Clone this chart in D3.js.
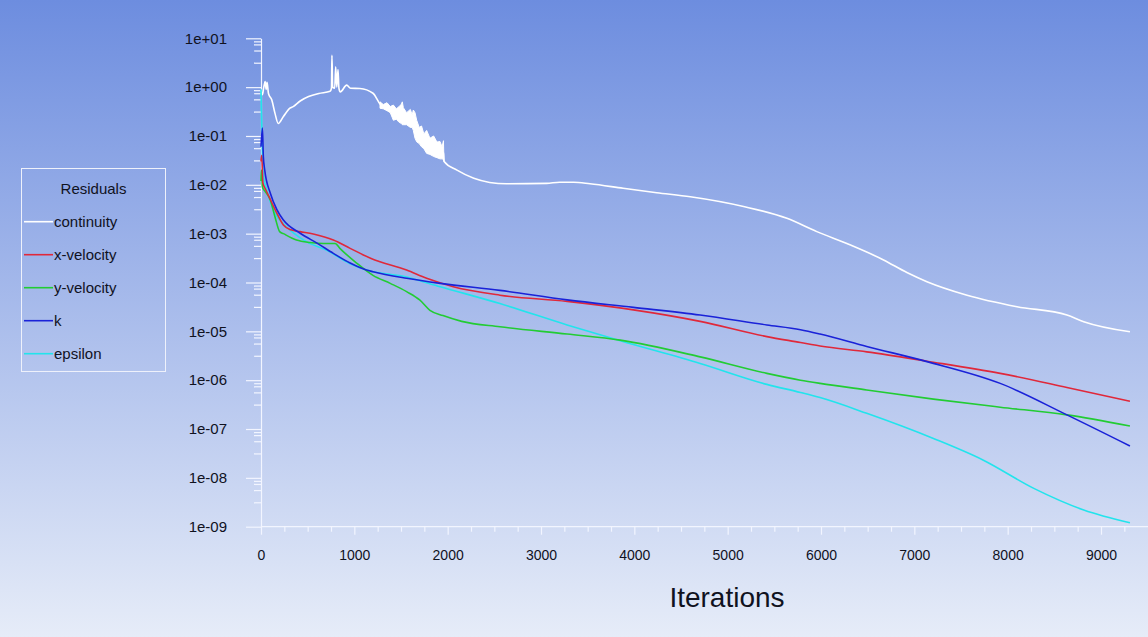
<!DOCTYPE html>
<html>
<head>
<meta charset="utf-8">
<script src="https://cdn.jsdelivr.net/npm/d3@7"></script>
<style>
html,body{margin:0;padding:0;overflow:hidden;}
svg{display:block;font-family:"Liberation Sans",Arial,sans-serif;}
</style>
</head>
<body>
<svg id="chart" width="1148" height="637"></svg>
<script>
// ---------- data ----------
const seriesNames = ["continuity", "x-velocity", "y-velocity", "k", "epsilon"];
const seriesColors = ["#ffffff", "#e0283a", "#22cc33", "#1a22d8", "#22e4ec"];

const continuity = [[0,0.85],[15,0.7],[30,1.0],[45,1.3],[55,0.9],[65,1.25],[80,0.74],[115,0.55],[150,0.29],[185,0.18],[240,0.25],[310,0.37],[345,0.40],[420,0.52],[510,0.64],[620,0.74],[740,0.82],[755,0.95],[760,4.5],[768,1.0],[790,0.95],[800,2.6],[812,1.0],[825,2.3],[835,0.95],[850,0.8],[918,1.1],[960,0.95],[1060,0.94],[1200,0.75],[1275,0.45],[1418,0.3],[1514,0.25],[1632,0.2],[1668,0.12],[1775,0.07],[1918,0.05],[1955,0.045],[1962,0.030],[2100,0.020],[2280,0.0136],[2450,0.0112],[2630,0.0105],[3060,0.0107],[3200,0.0113],[3350,0.0113],[3525,0.0105],[3880,0.0085],[4240,0.0069],[4600,0.0057],[5170,0.0036],[5635,0.00206],[5955,0.0011],[6310,5.9e-4],[6670,2.9e-4],[6920,1.6e-4],[7135,1.04e-4],[7565,5.5e-5],[8100,3.2e-5],[8635,2.16e-5],[8815,1.58e-5],[9310,9.8e-6]];

// noisy envelope of continuity: [iteration, low, high]
const continuityBand = [[1275,0.37,0.5],[1310,0.36,0.44],[1350,0.33,0.48],[1385,0.3,0.40],[1418,0.21,0.43],[1450,0.22,0.36],[1480,0.19,0.40],[1505,0.18,0.45],[1514,0.17,0.5],[1525,0.17,0.38],[1560,0.17,0.30],[1600,0.15,0.35],[1620,0.15,0.27],[1632,0.13,0.34],[1650,0.09,0.3],[1668,0.076,0.21],[1695,0.07,0.15],[1720,0.06,0.16],[1745,0.055,0.11],[1775,0.044,0.13],[1810,0.042,0.09],[1850,0.038,0.10],[1885,0.036,0.075],[1918,0.034,0.077],[1940,0.034,0.06],[1955,0.033,0.08],[1960,0.03,0.03]];

const xVelocity = [[0,0.03],[8,0.04],[20,0.011],[50,0.008],[100,0.005],[170,0.0026],[240,0.0015],[320,0.0012],[420,1.1e-3],[560,9.8e-4],[775,7.4e-4],[955,5.0e-4],[1180,3.1e-4],[1560,1.8e-4],[1775,1.22e-4],[2060,8.2e-5],[2560,5.5e-5],[3280,4.1e-5],[3990,2.75e-5],[4705,1.6e-5],[5420,7.8e-6],[5780,5.9e-6],[5990,5.0e-6],[6490,3.8e-6],[7135,2.45e-6],[7920,1.38e-6],[8635,7.1e-7],[9310,3.7e-7]];

const yVelocity = [[0,0.012],[5,0.02],[15,0.009],[40,0.0075],[100,0.0049],[150,0.0022],[200,1.1e-3],[240,1.0e-3],[380,7.4e-4],[525,6.6e-4],[670,6.3e-4],[795,6.3e-4],[845,5.0e-4],[1025,2.5e-4],[1200,1.4e-4],[1385,9.6e-5],[1560,6.5e-5],[1700,4.4e-5],[1810,2.7e-5],[1950,2.1e-5],[2150,1.6e-5],[2560,1.24e-5],[3280,8.8e-6],[3850,6.6e-6],[4705,3.0e-6],[5420,1.38e-6],[5780,1.0e-6],[5990,8.6e-7],[6490,6.3e-7],[7205,4.1e-7],[7920,2.8e-7],[8635,1.95e-7],[9310,1.15e-7]];

const kResid = [[0,0.06],[15,0.145],[25,0.038],[40,0.02],[100,0.0067],[170,0.0031],[240,0.0019],[420,1.02e-3],[600,6.4e-4],[775,3.95e-4],[955,2.5e-4],[1130,1.8e-4],[1200,1.66e-4],[1560,1.22e-4],[1920,9.6e-5],[2560,6.9e-5],[3280,4.4e-5],[3990,3.1e-5],[4705,2.16e-5],[5420,1.35e-5],[5780,1.08e-5],[5990,8.8e-6],[6490,4.9e-6],[7135,2.4e-6],[7920,8.6e-7],[8635,1.95e-7],[9310,4.5e-8]];

const epsilon = [[0,0.9],[5,0.3],[10,0.13],[15,0.04],[25,0.015],[60,0.008],[100,0.0045],[150,0.0026],[240,0.0016],[490,6.8e-4],[700,4.6e-4],[950,2.46e-4],[1130,1.8e-4],[1560,1.3e-4],[1920,8.2e-5],[2560,3.7e-5],[3280,1.35e-5],[3850,6.4e-6],[4705,2.2e-6],[5420,8.2e-7],[5780,5.6e-7],[5990,4.4e-7],[6490,2.1e-7],[7205,6.4e-8],[7740,2.3e-8],[8280,6.1e-9],[8815,2.2e-9],[9310,1.2e-9]];

const seriesData = [continuity, xVelocity, yVelocity, kResid, epsilon];

const xTicks = [0,1000,2000,3000,4000,5000,6000,7000,8000,9000];
const yTickExponents = [1,0,-1,-2,-3,-4,-5,-6,-7,-8,-9];
const yTickLabels = ["1e+01","1e+00","1e-01","1e-02","1e-03","1e-04","1e-05","1e-06","1e-07","1e-08","1e-09"];
const xTitle = "Iterations";
const legendTitle = "Residuals";

// ---------- drawing ----------
const W = 1148, H = 637;
const svg = d3.select("#chart");

const defs = svg.append("defs");
const grad = defs.append("linearGradient").attr("id","bg").attr("x1",0).attr("y1",0).attr("x2",0).attr("y2",1);
grad.append("stop").attr("offset","0%").attr("stop-color","#6d8ddf");
grad.append("stop").attr("offset","100%").attr("stop-color","#e6ecf8");
svg.append("rect").attr("width",W).attr("height",H).attr("fill","url(#bg)");

const x = d3.scaleLinear().domain([0,9000]).range([261,1101]);
const y = d3.scaleLog().domain([1e-9,10]).range([526.7,38.3]);

const axisColor = "#f2f5ff";
const textColor = "#10121e";

// Y axis majors
const yMajors = yTickExponents.map(e => Math.pow(10,e));
const gy = svg.append("g").attr("transform",`translate(${x(0)},0)`);
gy.call(d3.axisLeft(y).tickValues(yMajors).tickSize(15).tickSizeOuter(0).tickPadding(19)
  .tickFormat((d,i) => yTickLabels[i]));
// Y minors: 1/16, 1/8, 1/4, 1/2 decade below each major
const yMinors = [];
yTickExponents.slice(0,-1).forEach(e => [1/16,1/8,1/4,1/2].forEach(f => yMinors.push(Math.pow(10,e-f))));
const gy2 = svg.append("g").attr("transform",`translate(${x(0)},0)`);
gy2.call(d3.axisLeft(y).tickValues(yMinors).tickSize(7).tickFormat(""));
gy2.select(".domain").remove();

// X axis
const gx = svg.append("g").attr("transform",`translate(0,${y(1e-9)})`);
gx.call(d3.axisBottom(x).tickValues(xTicks).tickSize(8).tickSizeOuter(0).tickPadding(15).tickFormat(d3.format("d")));
gx.select(".domain").remove();
const xMinors = d3.range(250, 9300, 250).filter(v => v % 1000 !== 0);
const gx2 = svg.append("g").attr("transform",`translate(0,${y(1e-9)})`);
gx2.call(d3.axisBottom(x).tickValues(xMinors).tickSize(5).tickFormat(""));
gx2.select(".domain").remove();
svg.append("line").attr("x1",x(0)).attr("x2",W).attr("y1",y(1e-9)).attr("y2",y(1e-9))
  .attr("stroke",axisColor).attr("stroke-width",1.2);

[gy,gy2,gx,gx2].forEach(g => {
  g.selectAll("line").attr("stroke",axisColor).attr("stroke-width",1.2);
  g.selectAll(".domain").attr("stroke",axisColor).attr("stroke-width",1.2);
  g.selectAll("text").attr("fill",textColor).attr("font-family","Liberation Sans, Arial, sans-serif");
});
gy.selectAll("text").attr("font-size",15);
gx.selectAll("text").attr("font-size",14);

// X title
svg.append("text").attr("x",727).attr("y",607).attr("text-anchor","middle")
  .attr("font-size",28).attr("fill",textColor).text(xTitle);

// Series
const line = d3.line().x(d => x(d[0])).y(d => y(d[1])).curve(d3.curveMonotoneX);
const area = d3.area().x(d => x(d[0])).y0(d => y(d[1])).y1(d => y(d[2]));

svg.append("path").datum(continuityBand).attr("d",area).attr("fill",seriesColors[0]).attr("stroke",seriesColors[0]).attr("stroke-width",1);

// draw order: continuity, epsilon, green, red, blue
[0,4,2,1,3].forEach(i => {
  svg.append("path").datum(seriesData[i]).attr("d",line)
    .attr("fill","none").attr("stroke",seriesColors[i]).attr("stroke-width",1.6)
    .attr("stroke-linejoin","round");
});

// Legend
const lg = svg.append("g");
lg.append("rect").attr("x",21.5).attr("y",168.5).attr("width",144).attr("height",203)
  .attr("fill","none").attr("stroke","#eef1fb").attr("stroke-width",1);
lg.append("text").attr("x",93.5).attr("y",193.5).attr("text-anchor","middle")
  .attr("font-size",15).attr("fill",textColor).text(legendTitle);
seriesNames.forEach((n,i) => {
  const cy = 221.7 + i*33;
  lg.append("line").attr("x1",24).attr("x2",53).attr("y1",cy).attr("y2",cy)
    .attr("stroke",seriesColors[i]).attr("stroke-width",1.6);
  lg.append("text").attr("x",54).attr("y",cy).attr("dy","0.35em")
    .attr("font-size",15).attr("fill",textColor).text(n);
});
</script>
</body>
</html>
